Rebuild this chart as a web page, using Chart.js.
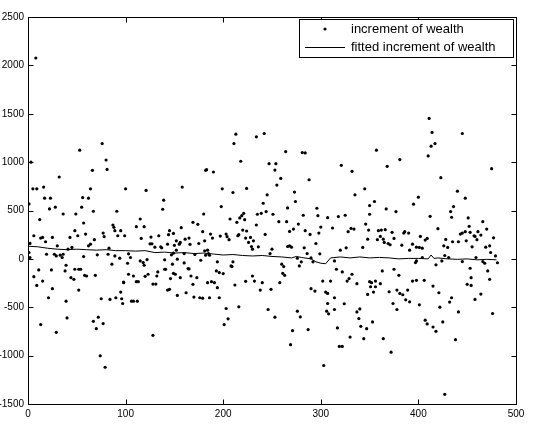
<!DOCTYPE html>
<html>
<head>
<meta charset="utf-8">
<script src="https://cdn.jsdelivr.net/npm/chart.js@4.4.0/dist/chart.umd.min.js"></script>
<style>
  html, body { margin: 0; padding: 0; background: #fff; }
  #wrap { width: 557px; height: 426px; }
</style>
</head>
<body>
<div id="wrap"><canvas id="chart" width="557" height="426"></canvas></div>
<script>
// --- data ---
const wealthX = [
  1,1,2,2,3,5,6,6,8,9,9,11,12,
  53,32,16,17,23,22,28,55,36,49,48,13,15,18,25,43,51,30,45,41,19,27,29,33,36,35,39,48,52,54,24,38,44,47,15,52,25,21,39,40,13,29,
  76,80,81,66,64,62,56,67,91,57,87,88,89,95,59,77,78,92,68,64,62,83,57,71,82,86,89,94,58,60,69,98,95,75,84,90,96,97,67,72,70,77,74,79,
  100,121,138,115,111,119,99,126,134,116,125,127,130,137,136,103,105,102,115,118,122,119,140,133,103,123,120,108,132,98,111,113,128,131,106,108,112,128,
  182,158,139,180,169,174,157,145,149,179,144,143,165,175,161,152,156,155,147,148,149,160,171,181,182,152,140,160,153,177,164,165,141,149,151,146,156,167,173,169,143,145,162,153,170,176,179,150,166,
  213,211,218,183,190,199,210,224,198,221,219,217,207,214,222,215,216,220,203,204,206,187,189,197,181,223,184,185,186,194,210,208,209,193,196,200,223,184,188,191,194,212,186,196,216,203,205,201,
  242,234,264,247,254,253,259,255,245,241,266,235,239,244,251,257,265,234,224,243,226,231,228,229,236,230,266,250,248,260,262,261,263,230,232,240,258,238,249,246,253,
  281,284,288,273,274,296,282,297,307,277,272,268,284,289,300,298,295,268,270,283,286,299,276,280,278,290,292,302,290,294,305,307,306,308,276,279,287,271,269,303,
  321,332,345,335,325,350,318,346,312,328,331,334,348,326,320,343,314,316,322,332,329,327,337,310,350,348,307,314,314,324,340,337,339,341,347,317,330,344,319,322,
  357,381,368,355,350,367,377,349,359,362,366,373,385,386,390,361,358,364,365,375,369,371,383,391,363,375,380,356,352,361,356,351,354,370,378,381,384,389,387,391,374,378,353,364,372,
  411,414,417,413,410,423,400,395,433,434,412,420,402,428,426,430,409,407,394,398,401,404,398,397,404,418,424,427,431,394,398,406,415,421,434,432,401,422,407,409,425,415,418,427,
  445,475,440,448,436,451,452,466,445,448,443,453,457,458,461,464,470,477,441,449,455,460,469,473,435,445,459,466,468,474,471,473,453,454,450,454,458,464,441,476,438,479,481
];
const wealthY = [
  568,66,160,14,1000,724,239,-184,2076,724,-274,-114,406,
  1123,846,742,627,627,516,534,534,464,464,291,215,222,177,222,222,239,135,118,100,48,48,31,38,48,14,-66,-107,-107,-107,-114,-125,-194,-211,-229,-322,-308,-402,-437,-610,-679,-759,
  1192,1022,925,915,724,627,634,492,492,371,350,326,291,291,256,267,229,239,198,152,135,111,24,42,48,-55,31,7,-170,-177,-170,-239,-343,-412,-419,-402,-412,-461,-645,-603,-721,-669,-1002,-1120,
  724,707,513,412,333,333,239,225,239,211,156,156,121,114,125,52,14,-45,-21,-38,-7,-66,-107,-135,-159,-159,-180,-177,-177,-246,-236,-236,-260,-260,-437,-437,-437,-790,
  915,742,607,464,378,357,322,291,263,281,250,152,215,159,204,187,170,152,42,-55,59,55,45,83,38,90,-10,-42,-3,-14,-100,-104,-107,-149,-159,-204,-194,-177,-194,-263,-322,-315,-350,-378,-395,-402,-406,140,150,
  1289,1192,1009,922,898,724,686,728,541,471,447,423,412,378,405,239,250,298,256,229,198,256,215,236,187,215,90,55,38,-31,-31,-73,-80,-125,-142,-152,-232,-246,-236,-246,-298,-270,-402,-402,-496,-513,-620,-679,
  1296,1262,1109,984,984,918,832,763,662,575,527,461,471,489,461,385,385,350,288,253,170,187,222,128,125,100,128,100,55,-55,-80,-149,-170,-177,-229,-246,-246,-322,-315,-523,-603,
  1099,1095,818,690,593,523,451,447,426,360,308,284,291,253,329,267,159,135,121,114,55,52,7,-31,-73,10,-31,-229,-308,-333,-343,-461,-541,-568,-541,-600,-731,-742,-887,-1102,
  967,905,724,662,451,461,437,360,319,281,315,308,204,114,90,118,-21,-107,-135,-159,-204,-229,-256,-229,-236,-367,-357,-523,-402,-464,-517,-548,-617,-697,-721,-714,-808,-825,-905,-905,
  1123,1026,957,593,551,516,489,298,291,298,302,274,267,281,267,232,198,204,170,211,159,146,142,90,-125,-107,-170,-229,-246,-256,-288,-288,-343,-340,-322,-357,-371,-322,-423,-444,-461,-523,-652,-825,-964,
  1452,1307,1192,1165,1064,839,638,565,489,430,440,312,232,201,135,118,211,194,152,121,118,111,-21,-38,14,-62,-21,35,14,-229,-222,-222,-281,-350,-402,-447,-475,-499,-634,-672,-652,-704,-749,-1400,
  1296,932,700,627,541,423,336,385,267,281,256,274,239,232,281,246,308,218,177,187,125,198,121,135,177,-28,14,-28,-45,66,-125,-211,-97,-194,-263,-274,-419,-364,-548,-565,-835,30,-40
];

const fitX = [1,10,20,30,40,50,60,70,80,90,100,110,120,130,140,150,160,170,180,190,200,210,220,230,240,250,260,270,275,280,290,295,300,305,310,320,330,340,350,360,370,380,390,400,410,413,416,420,430,440,450,460,470,480];
const fitY = [130,125,110,100,95,100,95,90,95,85,85,80,85,65,70,60,65,55,60,50,40,45,35,30,35,25,20,10,25,15,0,-30,-45,-50,10,20,10,20,10,15,10,0,5,5,0,40,5,10,0,-5,0,-10,-5,-10];

const xTicks = [0, 100, 200, 300, 400, 500];
const yTicks = [-1500, -1000, -500, 0, 500, 1000, 1500, 2000, 2500];

const legendLabels = ['increment of wealth', 'fitted increment of wealth'];
// --- end data ---

const FAMILY = '"Liberation Sans", Arial, Helvetica, sans-serif';
const TICK_FONT = { family: FAMILY, size: 10 };

// MATLAB style box with inward ticks, plus the legend box
const matlabBox = {
  id: 'matlabBox',
  afterDraw(chart) {
    const ctx = chart.ctx;
    const sx = chart.scales.x, sy = chart.scales.y;
    const L = Math.round(sx.left) + 0.5, R = Math.round(sx.right) + 0.5;
    const T = Math.round(sy.top) + 0.5, B = Math.round(sy.bottom) + 0.5;
    ctx.save();
    ctx.strokeStyle = '#000';
    ctx.lineWidth = 1;
    ctx.beginPath();
    ctx.rect(L, T, R - L, B - T);
    xTicks.forEach(v => {
      const px = Math.round(sx.getPixelForValue(v)) + 0.5;
      ctx.moveTo(px, B); ctx.lineTo(px, B - 5);
      ctx.moveTo(px, T); ctx.lineTo(px, T + 5);
    });
    yTicks.forEach(v => {
      const py = Math.round(sy.getPixelForValue(v)) + 0.5;
      ctx.moveTo(L, py); ctx.lineTo(L + 5, py);
      ctx.moveTo(R, py); ctx.lineTo(R - 5, py);
    });
    ctx.stroke();

    // legend
    const lx = 299.5, ly = 19.5, lw = 214, lh = 38;
    ctx.fillStyle = '#fff';
    ctx.fillRect(lx, ly, lw, lh);
    ctx.strokeRect(lx, ly, lw, lh);
    ctx.fillStyle = '#000';
    ctx.beginPath();
    ctx.arc(325, 29, 1.6, 0, Math.PI * 2);
    ctx.fill();
    ctx.beginPath();
    ctx.moveTo(305, 47.5); ctx.lineTo(345, 47.5);
    ctx.stroke();
    ctx.font = '13px ' + FAMILY;
    ctx.textBaseline = 'middle';
    ctx.fillText(legendLabels[0], 351, 29);
    ctx.fillText(legendLabels[1], 351, 47);
    ctx.restore();
  }
};

document.addEventListener('DOMContentLoaded', () => {
  const ctx = document.getElementById('chart').getContext('2d');
  new Chart(ctx, {
    type: 'scatter',
    data: {
      datasets: [
        {
          label: legendLabels[0],
          data: wealthX.map((x, i) => ({ x: x, y: wealthY[i] })),
          pointRadius: 1.6,
          pointBackgroundColor: '#000',
          pointBorderWidth: 0,
          showLine: false
        },
        {
          label: legendLabels[1],
          type: 'line',
          data: fitX.map((x, i) => ({ x: x, y: fitY[i] })),
          borderColor: '#000',
          borderWidth: 1,
          pointRadius: 0,
          tension: 0,
          fill: false
        }
      ]
    },
    options: {
      responsive: false,
      animation: false,
      layout: { padding: { left: 0, right: 41, top: 17, bottom: 0 } },
      plugins: { legend: { display: false }, tooltip: { enabled: false } },
      scales: {
        x: {
          type: 'linear', min: 0, max: 500,
          afterBuildTicks: s => { s.ticks = xTicks.map(v => ({ value: v })); },
          afterFit: s => { s.height = 22; },
          ticks: { color: '#000', font: TICK_FONT, padding: 4, maxRotation: 0, callback: v => String(v) },
          grid: { display: false, drawTicks: false, tickLength: 0 },
          border: { display: true, color: '#000' }
        },
        y: {
          type: 'linear', min: -1500, max: 2500,
          afterBuildTicks: s => { s.ticks = yTicks.map(v => ({ value: v })); },
          afterFit: s => { s.width = 28; },
          ticks: { color: '#000', font: TICK_FONT, padding: 4, callback: v => String(v) },
          grid: { display: false, drawTicks: false, tickLength: 0 },
          border: { display: true, color: '#000' }
        }
      }
    },
    plugins: [matlabBox]
  });
});
</script>
</body>
</html>
